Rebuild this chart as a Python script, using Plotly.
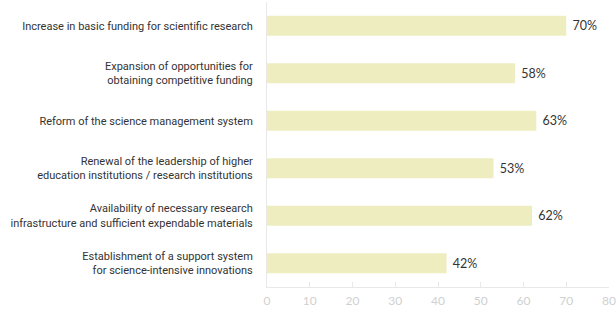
import plotly.graph_objects as go

categories = [
    "Increase in basic funding for scientific research",
    "Expansion of opportunities for<br>obtaining competitive funding",
    "Reform of the science management system",
    "Renewal of the leadership of higher<br>education institutions / research institutions",
    "Availability of necessary research<br>infrastructure and sufficient expendable materials",
    "Establishment of a support system<br>for science-intensive innovations",
]
values = [70, 58, 63, 53, 62, 42]
tick_vals = [0, 10, 20, 30, 40, 50, 60, 70, 80]

fig = go.Figure(go.Bar(
    x=values,
    y=categories,
    orientation="h",
    marker=dict(color="#EEEDC0", line=dict(width=0)),
    width=0.42,
    text=[f" {v}%" for v in values],
    textposition="outside",
    textfont=dict(family="Lato", size=12.5, color="#333333"),
    cliponaxis=False,
    hoverinfo="skip",
))

fig.update_layout(
    width=616, height=309,
    margin=dict(l=267, r=7, t=2, b=22),
    paper_bgcolor="white", plot_bgcolor="white",
    showlegend=False,
    font=dict(family="Roboto", size=11, color="#333333"),
    xaxis=dict(
        range=[0, 80], tickvals=tick_vals, showgrid=False, zeroline=False,
        showline=True, linecolor="#E8E8E8", linewidth=1,
        ticks="inside", ticklen=5, tickcolor="#E8E8E8",
        tickfont=dict(family="Lato", size=12, color="#D0D0D0"),
        ticklabelstandoff=3,
        fixedrange=True, automargin=False,
    ),
    yaxis=dict(
        categoryorder="array", categoryarray=categories, autorange="reversed",
        showgrid=False, zeroline=False,
        showline=True, linecolor="#E8E8E8", linewidth=1,
        ticks="", ticklabelstandoff=11, automargin=False,
        tickfont=dict(family="Roboto", size=11, color="#333333"),
        fixedrange=True,
    ),
)

fig.write_html(
    "out.html",
    config={"displayModeBar": False},
    post_script="document.body.style.margin='0';document.body.style.padding='0';",
)
